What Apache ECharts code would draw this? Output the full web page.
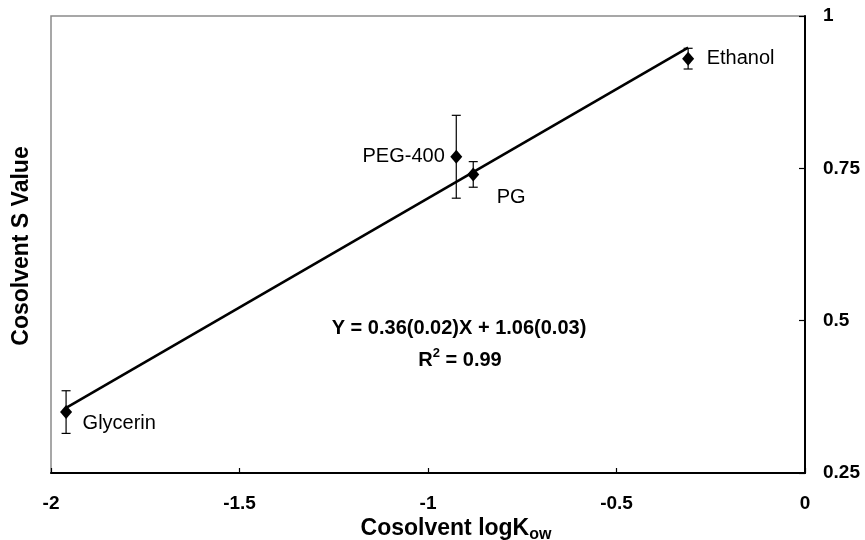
<!DOCTYPE html>
<html>
<head>
<meta charset="utf-8">
<script src="https://cdn.jsdelivr.net/npm/echarts@6/dist/echarts.min.js"></script>
<style>
html,body{margin:0;padding:0;background:#fff;}
#chart{width:865px;height:540px;}
</style>
</head>
<body>
<div id="chart"></div>
<script>
// ---- data ----
const names   = ['Glycerin', 'PEG-400', 'PG', 'Ethanol'];
const logKow  = [-1.96, -0.925, -0.88, -0.31];
const sValue  = [0.35, 0.769, 0.74, 0.93];
const sError  = [0.035, 0.068, 0.021, 0.017];
const fitX    = [-1.96, -0.31];
const fitY    = [0.357, 0.948];
const xTicks  = [-2, -1.5, -1, -0.5, 0];
const yTicks  = [0.25, 0.5, 0.75, 1];
const equationText = 'Y = 0.36(0.02)X + 1.06(0.03)';
const r2Main = 'R';
const r2Sup = '2';
const r2Rest = ' = 0.99';
const xTitleMain = 'Cosolvent logK';
const xTitleSub = 'ow';
const yTitle = 'Cosolvent S Value';

// label placement (style, not data)
const labelPos = [
  {position: 'right', offset: [10.5, 11]},
  {position: 'left',  offset: [-5.5, 0]},
  {position: 'right', offset: [17.5, 23]},
  {position: 'right', offset: [12.5, 0]}
];

const FONT = '"Liberation Sans", Arial, Helvetica, sans-serif';
const chart = echarts.init(document.getElementById('chart'), null, {renderer: 'canvas'});

const mctx = document.createElement('canvas').getContext('2d');
function tw(text, font) { mctx.font = font; return mctx.measureText(text).width; }

const labelBase = {show: true, color: '#000', fontFamily: FONT, fontSize: 20, fontWeight: 'normal',
                   textBorderWidth: 0, textShadowBlur: 0, opacity: 1};
const pointData = names.map((n, i) => ({
  name: n,
  value: [logKow[i], sValue[i]],
  label: Object.assign({}, labelBase, {formatter: n, position: labelPos[i].position,
          distance: 0, offset: labelPos[i].offset})
}));
const errData = names.map((n, i) => [logKow[i], sValue[i] - sError[i], sValue[i] + sError[i]]);

// x title pieces
const fMain = 'bold 23px ' + FONT, fSub = 'bold 16px ' + FONT;
const wMain = tw(xTitleMain, fMain), wSub = tw(xTitleSub, fSub);
const xTitleLeft = 456 - (wMain + wSub) / 2;

// R^2 pieces
const fEq = 'bold 20px ' + FONT, fSup = 'bold 13px ' + FONT;
const wR = tw(r2Main, fEq), wS = tw(r2Sup, fSup), wRest = tw(r2Rest, fEq);
const r2Left = 460 - (wR + wS + wRest) / 2;

const option = {
  animation: false,
  backgroundColor: '#fff',
  grid: {left: 51, right: 60, top: 16, bottom: 67, show: true, borderColor: '#8a8a8a', borderWidth: 1.5},
  xAxis: {
    type: 'value', min: xTicks[0], max: xTicks[xTicks.length - 1], interval: 0.5,
    axisLine: {show: true, onZero: false, lineStyle: {color: '#000', width: 2}},
    axisTick: {show: true, inside: true, length: 5, lineStyle: {color: '#000', width: 1.2}},
    axisLabel: {color: '#000', fontFamily: FONT, fontSize: 19, fontWeight: 'bold', margin: 21},
    splitLine: {show: false}
  },
  yAxis: {
    type: 'value', position: 'right', min: yTicks[0], max: yTicks[yTicks.length - 1], interval: 0.25,
    axisLine: {show: true, onZero: false, lineStyle: {color: '#000', width: 2}},
    axisTick: {show: true, inside: true, length: 6, lineStyle: {color: '#000', width: 1.2}},
    axisLabel: {color: '#000', fontFamily: FONT, fontSize: 19, fontWeight: 'bold', margin: 18},
    splitLine: {show: false}
  },
  series: [
    {
      type: 'line', data: fitX.map((x, i) => [x, fitY[i]]), symbol: 'none', z: 2,
      lineStyle: {color: '#000', width: 2.6}, silent: true
    },
    {
      type: 'custom', z: 3, data: errData, silent: true,
      renderItem: function (params, api) {
        const x = api.value(0);
        const lo = api.coord([x, api.value(1)]);
        const hi = api.coord([x, api.value(2)]);
        const w = 4.5;
        const st = {stroke: '#000', lineWidth: 1.2};
        return {type: 'group', children: [
          {type: 'line', shape: {x1: lo[0], y1: lo[1], x2: hi[0], y2: hi[1]}, style: st},
          {type: 'line', shape: {x1: lo[0] - w, y1: lo[1], x2: lo[0] + w, y2: lo[1]}, style: st},
          {type: 'line', shape: {x1: hi[0] - w, y1: hi[1], x2: hi[0] + w, y2: hi[1]}, style: st}
        ]};
      }
    },
    {
      type: 'scatter', z: 4, symbol: 'diamond', symbolSize: [12, 14],
      itemStyle: {color: '#000', opacity: 1},
      label: labelBase,
      emphasis: {disabled: true},
      data: pointData
    }
  ],
  graphic: [
    {type: 'text', x: 22, y: 246, rotation: Math.PI / 2, z: 10,
     style: {text: yTitle, font: fMain, fill: '#000', align: 'center', verticalAlign: 'middle'}},
    {type: 'text', x: xTitleLeft, y: 529, z: 10,
     style: {text: xTitleMain, font: fMain, fill: '#000', align: 'left', verticalAlign: 'middle'}},
    {type: 'text', x: xTitleLeft + wMain, y: 535, z: 10,
     style: {text: xTitleSub, font: fSub, fill: '#000', align: 'left', verticalAlign: 'middle'}},
    {type: 'text', x: 459, y: 328, z: 10,
     style: {text: equationText, font: fEq, fill: '#000', align: 'center', verticalAlign: 'middle'}},
    {type: 'text', x: r2Left, y: 360, z: 10,
     style: {text: r2Main, font: fEq, fill: '#000', align: 'left', verticalAlign: 'middle'}},
    {type: 'text', x: r2Left + wR, y: 353, z: 10,
     style: {text: r2Sup, font: fSup, fill: '#000', align: 'left', verticalAlign: 'middle'}},
    {type: 'text', x: r2Left + wR + wS, y: 360, z: 10,
     style: {text: r2Rest, font: fEq, fill: '#000', align: 'left', verticalAlign: 'middle'}}
  ]
};
chart.setOption(option);
</script>
</body>
</html>
